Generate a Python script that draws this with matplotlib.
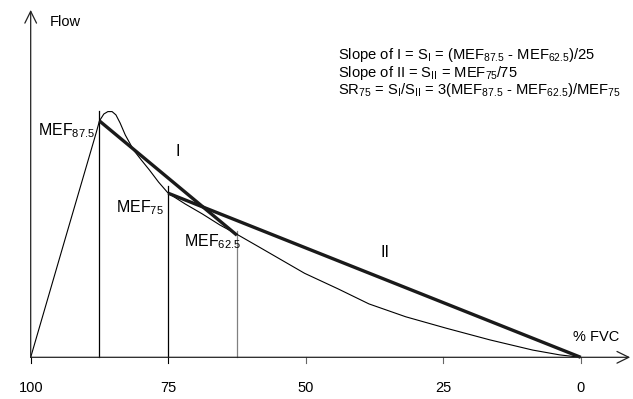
import matplotlib
matplotlib.use('Agg')
import matplotlib.pyplot as plt

plt.rcParams['font.family'] = 'Liberation Sans'
plt.rcParams['mathtext.fontset'] = 'custom'
plt.rcParams['mathtext.rm'] = 'Liberation Sans'
plt.rcParams['mathtext.it'] = 'Liberation Sans:italic'

# flow-volume curve (x = % FVC remaining, y = flow)
fvc = [100, 93.65, 88.1, 87.5, 86.7, 85.97, 85.2, 84.5, 83.74, 82.8, 81.3, 79.9,
       78.4, 76.75, 75, 71.9, 68.8, 65.6, 62.5, 58.6, 50.2, 44.1, 38.5, 31.8,
       24.45, 16.5, 8.7, 3.8, 0]
flow = [0, 4.0, 7.48, 7.88, 8.11, 8.19, 8.19, 8.08, 7.81, 7.41, 6.91, 6.58,
        6.24, 5.84, 5.47, 5.11, 4.78, 4.41, 4.10, 3.69, 2.80, 2.28, 1.78, 1.35,
        0.97, 0.58, 0.24, 0.08, 0]

mef_fvc = [87.5, 75, 62.5]
mef_flow = [7.88, 5.47, 4.07]
vline_top = [8.22, 5.71, 4.2]
vline_col = ['black', 'black', '#808080']

tick_fvc = [100, 75, 50, 25, 0]
tick_col = ['black', 'black', '#666666', '#666666', '#666666']

fig = plt.figure(figsize=(6.33, 3.99), dpi=100)
ax = fig.add_axes([0, 0, 1, 1])
ax.set_xlim(105.58, -9.51)
ax.set_ylim(-1.39, 11.91)
ax.axis('off')

# axes with open arrow heads
arr = dict(arrowstyle='->,head_length=0.85,head_width=0.42', lw=0.9, color='#222222',
           shrinkA=0, shrinkB=0)
ax.annotate('', xy=(-9.0, 0), xytext=(100, 0), arrowprops=arr)
ax.annotate('', xy=(100, 11.58), xytext=(100, 0), arrowprops=arr)

for x, c in zip(tick_fvc, tick_col):
    ax.plot([x, x], [0, -0.2], color=c, lw=0.8)
    ax.text(x, -1.02, str(x), ha='center', va='center', fontsize=10.5)

for x, top, c in zip(mef_fvc, vline_top, vline_col):
    ax.plot([x, x], [0, top], color=c, lw=0.9)

ax.plot(fvc, flow, color='black', lw=0.8)

# slope lines I and II
ax.plot([mef_fvc[0], mef_fvc[2]], [mef_flow[0], mef_flow[2]], color='#1a1a1a', lw=2.4,
        solid_capstyle='butt')
ax.plot([mef_fvc[1], 0], [mef_flow[1], 0], color='#1a1a1a', lw=2.4, solid_capstyle='butt')

ax.text(96.5, 11.18, 'Flow', ha='left', va='center', fontsize=10.5)
ax.text(1.4, 0.69, '% FVC', ha='left', va='center', fontsize=10.5)

ax.text(88.2, 7.41, r'MEF$_{\mathrm{87.5}}$', ha='right', va='baseline', fontsize=11.5)
ax.text(75.8, 4.82, r'MEF$_{\mathrm{75}}$', ha='right', va='baseline', fontsize=11.5)
ax.text(72.1, 3.69, r'MEF$_{\mathrm{62.5}}$', ha='left', va='baseline', fontsize=11.5)
ax.text(73.2, 6.85, 'I', ha='center', va='center', fontsize=11.5)
ax.text(35.6, 3.48, 'II', ha='center', va='center', fontsize=11.5)

lines = [r'Slope of I = S$_\mathrm{I}$ = (MEF$_{\mathrm{87.5}}$ - MEF$_{\mathrm{62.5}}$)/25',
         r'Slope of II = S$_\mathrm{II}$ = MEF$_{\mathrm{75}}$/75',
         r'SR$_{\mathrm{75}}$ = S$_\mathrm{I}$/S$_\mathrm{II}$ = 3(MEF$_{\mathrm{87.5}}$ - MEF$_{\mathrm{62.5}}$)/MEF$_{\mathrm{75}}$']
for line, y in zip(lines, [10.08, 9.49, 8.91]):
    ax.text(44.1, y, line, ha='left', va='center', fontsize=10.6)

fig.savefig('out.png', dpi=100)
